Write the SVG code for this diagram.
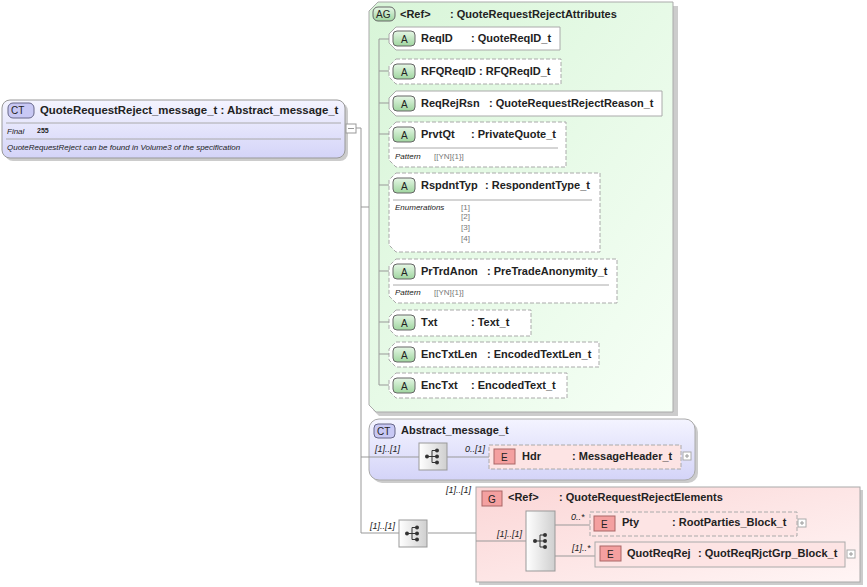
<svg xmlns="http://www.w3.org/2000/svg" width="867" height="587" viewBox="0 0 867 587">
<defs>
<linearGradient id="gg" x1="0" y1="0" x2="1" y2="1"><stop offset="0" stop-color="#d8f5d8"/><stop offset="1" stop-color="#f6fff6"/></linearGradient>
<linearGradient id="gb" x1="0" y1="0" x2="0" y2="1"><stop offset="0" stop-color="#f4f4ff"/><stop offset="1" stop-color="#d4d4f8"/></linearGradient>
<linearGradient id="gr" x1="0" y1="0" x2="1" y2="1"><stop offset="0" stop-color="#fbd6d6"/><stop offset="1" stop-color="#fff5f5"/></linearGradient>
<linearGradient id="gs" x1="0" y1="0" x2="1" y2="0"><stop offset="0" stop-color="#ffffff"/><stop offset="1" stop-color="#cfcfcf"/></linearGradient>
<linearGradient id="ga" x1="0" y1="0" x2="0" y2="1"><stop offset="0" stop-color="#e6f7e6"/><stop offset="1" stop-color="#9fd59f"/></linearGradient>
<g id="seq"><rect width="28" height="27" fill="url(#gs)" stroke="#999"/><circle cx="8" cy="13.5" r="2" fill="#333"/><path d="M8 13.5h5M13 7.5v12M13 7.5h4M13 13.5h4M13 19.5h4" stroke="#333" fill="none"/><circle cx="18" cy="7.5" r="2" fill="#333"/><circle cx="18" cy="13.5" r="2" fill="#333"/><circle cx="18" cy="19.5" r="2" fill="#333"/></g>
</defs>
<style>
text{font-family:"Liberation Sans",Arial,sans-serif;fill:#222}
.b{font-weight:bold;font-size:11px}
.s{font-size:8px;font-style:italic}
.v{font-size:8px;fill:#777}
.m{font-size:9px;font-style:italic}
.att{fill:#fff;stroke:#aaa}
.d{stroke-dasharray:4 2}
.ln{stroke:#999;fill:none}
</style>
<g id="main">
<rect x="5" y="103" width="343" height="58" rx="8" fill="#ccc"/>
<rect x="2" y="100" width="343" height="58" rx="8" fill="url(#gb)" stroke="#999"/>
<rect x="8" y="103" width="26" height="15" rx="5" fill="#c8c8f4" stroke="#668"/>
<text x="11" y="114" font-size="10">CT</text>
<text class="b" x="40" y="114" style="font-size:11.4px">QuoteRequestReject_message_t : Abstract_message_t</text>
<path d="M6 123H341M6 139H341" stroke="#aaa"/>
<text class="s" x="7" y="134">Final</text><text x="37" y="133" font-size="7" font-weight="bold">255</text>
<text class="s" x="7" y="150">QuoteRequestReject can be found in Volume3 of the specification</text>
<rect x="346" y="124" width="10" height="9" fill="#fff" stroke="#999"/>
<path d="M348 128.5h6" stroke="#999"/>
</g>
<g id="ag">
<path d="M373 6H678V416H379L373 410Z" fill="#ccc"/>
<path d="M378 2H673V412H376L369 405V11Z" fill="url(#gg)" stroke="#aaa"/>
<rect x="373" y="7" width="22" height="14" rx="5" fill="url(#ga)" stroke="#666"/>
<text x="376" y="18" font-size="10">AG</text>
<text class="b" x="400" y="18">&lt;Ref&gt;</text><text class="b" x="450" y="18">: QuoteRequestRejectAttributes</text>
</g>
<g id="attrs">
<g id="a1"><path class="att" d="M396 27H560V50H396L389 43V34Z"/><rect x="393" y="31" width="22" height="15" rx="4" fill="url(#ga)" stroke="#666"/><text x="401" y="43" font-size="10">A</text><text class="b" x="421" y="42">ReqID</text><text class="b" x="471" y="42">: QuoteReqID_t</text></g>
<g id="a2"><path class="att d" d="M396 59H561V84H396L389 77V66Z"/><rect x="393" y="64" width="22" height="15" rx="4" fill="url(#ga)" stroke="#666"/><text x="401" y="76" font-size="10">A</text><text class="b" x="421" y="75">RFQReqID</text><text class="b" x="479" y="75">: RFQReqID_t</text></g>
<g id="a3"><path class="att" d="M396 91H662V116H396L389 109V98Z"/><rect x="393" y="96" width="22" height="15" rx="4" fill="url(#ga)" stroke="#666"/><text x="401" y="108" font-size="10">A</text><text class="b" x="421" y="107">ReqRejRsn</text><text class="b" x="489" y="107">: QuoteRequestRejectReason_t</text></g>
<g id="a4"><path class="att d" d="M396 122H566V167H396L389 160V129Z"/><rect x="393" y="127" width="22" height="15" rx="4" fill="url(#ga)" stroke="#666"/><text x="401" y="139" font-size="10">A</text><text class="b" x="421" y="138">PrvtQt</text><text class="b" x="471" y="138">: PrivateQuote_t</text><path d="M393 148H558" stroke="#aaa"/><text class="s" x="395" y="159">Pattern</text><text class="v" x="434" y="159">[[YN]{1}]</text></g>
<g id="a5"><path class="att d" d="M396 173H600V252H396L389 245V180Z"/><rect x="393" y="178" width="22" height="15" rx="4" fill="url(#ga)" stroke="#666"/><text x="401" y="190" font-size="10">A</text><text class="b" x="421" y="189">RspdntTyp</text><text class="b" x="485" y="189">: RespondentType_t</text><path d="M393 200H592" stroke="#aaa"/><text class="s" x="395" y="210">Enumerations</text><text class="v" x="461" y="210">[1]</text><text class="v" x="461" y="219">[2]</text><text class="v" x="461" y="230">[3]</text><text class="v" x="461" y="241">[4]</text></g>
<g id="a6"><path class="att d" d="M396 259H617V303H396L389 296V266Z"/><rect x="393" y="264" width="22" height="15" rx="4" fill="url(#ga)" stroke="#666"/><text x="401" y="276" font-size="10">A</text><text class="b" x="421" y="275">PrTrdAnon</text><text class="b" x="487" y="275">: PreTradeAnonymity_t</text><path d="M393 285H609" stroke="#aaa"/><text class="s" x="395" y="295">Pattern</text><text class="v" x="434" y="295">[[YN]{1}]</text></g>
<g id="a7"><path class="att d" d="M396 310H531V336H396L389 329V317Z"/><rect x="393" y="315" width="22" height="15" rx="4" fill="url(#ga)" stroke="#666"/><text x="401" y="327" font-size="10">A</text><text class="b" x="421" y="326">Txt</text><text class="b" x="471" y="326">: Text_t</text></g>
<g id="a8"><path class="att d" d="M396 342H599V367H396L389 360V349Z"/><rect x="393" y="347" width="22" height="15" rx="4" fill="url(#ga)" stroke="#666"/><text x="401" y="359" font-size="10">A</text><text class="b" x="421" y="358">EncTxtLen</text><text class="b" x="487" y="358">: EncodedTextLen_t</text></g>
<g id="a9"><path class="att d" d="M396 373H567V398H396L389 391V380Z"/><rect x="393" y="378" width="22" height="15" rx="4" fill="url(#ga)" stroke="#666"/><text x="401" y="390" font-size="10">A</text><text class="b" x="421" y="389">EncTxt</text><text class="b" x="471" y="389">: EncodedText_t</text></g>
</g>
<g id="abs">
<rect x="372" y="422" width="326" height="61" rx="10" fill="#ccc"/>
<rect x="369" y="419" width="326" height="61" rx="10" fill="url(#gb)" stroke="#aaa"/>
<rect x="374" y="424" width="21" height="14" rx="4" fill="#c8c8f4" stroke="#668"/>
<text x="377" y="435" font-size="10">CT</text>
<text class="b" x="401" y="434">Abstract_message_t</text>
</g>
<g id="grp">
<rect x="479" y="490" width="384" height="95" fill="#ccc"/>
<rect x="476" y="487" width="384" height="95" fill="url(#gr)" stroke="#aaa"/>
<rect x="482" y="491" width="20" height="15" fill="#f4a0a0" stroke="#a66"/><text x="488" y="503" font-size="10">G</text>
<text class="b" x="508" y="501">&lt;Ref&gt;</text><text class="b" x="559" y="501">: QuoteRequestRejectElements</text>
</g>
<g id="connectors">
<path class="ln" d="M356 128H361V533M361 207H369M361 457H419M447 457H489M361 533H399M428 533H476M476 541H526M555 525H590M555 556H595M379 39V385"/>
<path class="ln" d="M379 39H389M379 71H389M379 103H389M379 134H389M379 185H389M379 271H389M379 322H389M379 354H389M379 385H389"/>
<text class="m" x="375" y="452">[1]..[1]</text>
<text class="m" x="465" y="452">0..[1]</text>
<text class="m" x="370" y="529">[1]..[1]</text>
<text class="m" x="446" y="493">[1]..[1]</text>
<text class="m" x="497" y="537">[1]..[1]</text>
<text class="m" x="571" y="520">0..*</text>
<text class="m" x="572" y="551">[1]..*</text>
</g>
<g id="seq1"><use href="#seq" x="419" y="443"/></g>
<g id="hdr">
<rect x="489" y="445" width="192" height="24" fill="#fde4e4" stroke="#aaa" class="d"/>
<rect x="494" y="449" width="21" height="15" fill="#f4a0a0" stroke="#a66"/><text x="501" y="461" font-size="10">E</text>
<text class="b" x="522" y="460">Hdr</text><text class="b" x="572" y="460">: MessageHeader_t</text>
<rect x="683" y="452" width="8" height="8" fill="#fff" stroke="#aaa"/><path d="M685 456h4M687 454v4" stroke="#999"/>
</g>
<g id="seq2"><use href="#seq" x="399" y="520"/></g>
<g id="seq3">
<rect x="526" y="511" width="29" height="60" fill="url(#gs)" stroke="#999"/>
<g transform="translate(526 527)"><circle cx="9" cy="14" r="2" fill="#333"/><path d="M9 14h5M14 8v12M14 8h4M14 14h4M14 20h4" stroke="#333"/><circle cx="19" cy="8" r="2" fill="#333"/><circle cx="19" cy="14" r="2" fill="#333"/><circle cx="19" cy="20" r="2" fill="#333"/></g>
</g>
<g id="pty">
<rect x="590" y="512" width="207" height="24" fill="#fde4e4" stroke="#aaa" class="d"/>
<rect x="594" y="516" width="21" height="15" fill="#f4a0a0" stroke="#a66"/><text x="601" y="528" font-size="10">E</text>
<text class="b" x="622" y="526">Pty</text><text class="b" x="672" y="526">: RootParties_Block_t</text>
<rect x="798" y="519" width="8" height="8" fill="#fff" stroke="#aaa"/><path d="M800 523h4M802 521v4" stroke="#999"/>
</g>
<g id="qrr">
<rect x="595" y="542" width="250" height="25" fill="#fde4e4" stroke="#aaa"/>
<rect x="600" y="546" width="21" height="15" fill="#f4a0a0" stroke="#a66"/><text x="607" y="558" font-size="10">E</text>
<text class="b" x="627" y="557">QuotReqRej</text><text class="b" x="698" y="557">: QuotReqRjctGrp_Block_t</text>
<rect x="847" y="550" width="8" height="8" fill="#fff" stroke="#aaa"/><path d="M849 554h4M851 552v4" stroke="#999"/>
</g>
</svg>
